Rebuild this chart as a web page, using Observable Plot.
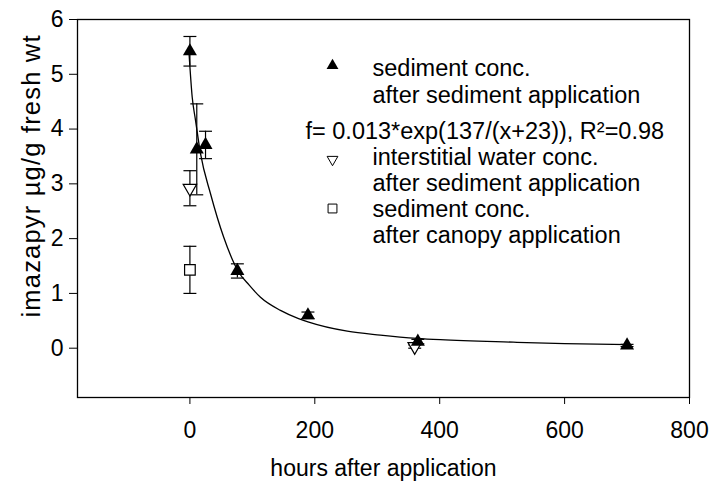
<!DOCTYPE html>
<html><head><meta charset="utf-8">
<script src="https://cdn.jsdelivr.net/npm/d3@7"></script>
<script src="https://cdn.jsdelivr.net/npm/@observablehq/plot@0.6"></script>
<style>body{margin:0;background:#fff}</style>
</head><body><div id="chart"></div>
<script>
const xTicks = [0, 200, 400, 600, 800];
const yTicks = [0, 1, 2, 3, 4, 5, 6];
const sedHours = [0, 11, 25, 76, 189, 365, 700];
const sedConc  = [5.42, 3.63, 3.71, 1.41, 0.60, 0.12, 0.05];
const sedErr   = [0.27, 0.83, 0.25, 0.13, 0.06, 0.04, 0.02];
const iwHours = [0, 360];
const iwConc  = [2.92, 0.03];
const iwErr   = [0.32, 0.03];
const canHours = [0];
const canConc  = [1.43];
const canErr   = [0.43];
const fitHours = [-1.5, 3.7, 9, 17, 33, 54, 77, 95, 113, 145, 174, 189, 252, 305, 364, 401, 518, 600, 704];
const fitConc  = [5.4, 4.58, 4.16, 3.55, 2.82, 2.03, 1.41, 1.15, 0.93, 0.69, 0.54, 0.48, 0.31, 0.24, 0.18, 0.155, 0.11, 0.085, 0.065];
const legendLabels = [
  ["sediment conc.", "after sediment application"],
  ["interstitial water conc.", "after sediment application"],
  ["sediment conc.", "after canopy application"]
];
const fitLabel = "f= 0.013*exp(137/(x+23)), R²=0.98";
const xLabel = "hours after application";
const yLabel = "imazapyr µg/g fresh wt";

const rows = (hs, cs, es, series) => hs.map((h, i) => ({h, c: cs[i], lo: cs[i] - es[i], hi: cs[i] + es[i], series}));
const sed = rows(sedHours, sedConc, sedErr, "sed");
const iw = rows(iwHours, iwConc, iwErr, "iw");
const can = rows(canHours, canConc, canErr, "can");
const all = [...sed, ...iw, ...can];
const fit = fitHours.map((h, i) => ({h, c: fitConc[i]}));

const capSymbol = {draw(ctx, size) { const w = Math.sqrt(size); ctx.moveTo(-w / 2, 0); ctx.lineTo(w / 2, 0); }};
const FONT = 23;
const LFONT = 23.5;
const ML = 77, MT = 19;

const legendMarks = [];
const symX = 332, txtX = 372;
const symY = [65, 159, 208];
const lineY = [[68, 95], [157, 183], [209, 235]];
legendLabels.forEach((lines, k) => {
  lines.forEach((t, j) => {
    legendMarks.push(Plot.text([t], {frameAnchor: "top-left", dx: txtX - ML, dy: lineY[k][j] - MT, textAnchor: "start", lineAnchor: "middle", fontSize: LFONT, fill: "black"}));
  });
});
legendMarks.push(Plot.dot([0], {frameAnchor: "top-left", dx: symX - ML, dy: symY[0] - MT, symbol: "triangle", r: 4.4, fill: "black", stroke: "none"}));
legendMarks.push(Plot.dot([0], {frameAnchor: "top-left", dx: symX - ML, dy: symY[1] - MT, symbol: "triangle", rotate: 180, r: 4, fill: "white", stroke: "black", strokeWidth: 1}));
legendMarks.push(Plot.dot([0], {frameAnchor: "top-left", dx: symX - ML, dy: symY[2] - MT, symbol: "square", r: 5, fill: "white", stroke: "black", strokeWidth: 1}));
legendMarks.push(Plot.text([fitLabel], {frameAnchor: "top-left", dx: 305 - ML, dy: 131 - MT, textAnchor: "start", lineAnchor: "middle", fontSize: LFONT, fill: "black"}));

const chart = Plot.plot({
  width: 711,
  height: 483,
  marginLeft: ML,
  marginRight: 22,
  marginTop: MT,
  marginBottom: 86,
  style: {fontFamily: "'Liberation Sans', Arial, sans-serif", background: "white", color: "black"},
  x: {domain: [-180, 800]},
  y: {domain: [-0.9, 6]},
  marks: [
    Plot.frame({stroke: "black", strokeWidth: 1.3}),
    Plot.axisX({ticks: xTicks, tickSize: 7, tickPadding: 17, fontSize: FONT, label: null, tickFormat: d => String(d)}),
    Plot.axisY({ticks: yTicks, tickSize: 8, tickPadding: 6, fontSize: FONT, label: null, tickFormat: d => String(d)}),
    Plot.text([xLabel], {frameAnchor: "bottom", dy: 71, lineAnchor: "middle", fontSize: FONT, fill: "black"}),
    Plot.text([yLabel], {frameAnchor: "top-left", dx: 31 - ML, dy: 176 - MT, rotate: -90, textAnchor: "middle", lineAnchor: "middle", fontSize: 25.5, fill: "black"}),
    Plot.ruleX(all, {x: "h", y1: "lo", y2: "hi", stroke: "black", strokeWidth: 1.2}),
    Plot.dot(all, {x: "h", y: "lo", symbol: capSymbol, r: 7.3, stroke: "black", fill: "none", strokeWidth: 1.2}),
    Plot.dot(all, {x: "h", y: "hi", symbol: capSymbol, r: 7.3, stroke: "black", fill: "none", strokeWidth: 1.2}),
    Plot.line(fit, {x: "h", y: "c", curve: "monotone-x", stroke: "black", strokeWidth: 1.3}),
    Plot.dot(iw, {x: "h", y: "c", symbol: "triangle", rotate: 180, r: 5, fill: "white", stroke: "black", strokeWidth: 1.2}),
    Plot.dot(can, {x: "h", y: "c", symbol: "square", r: 6, fill: "white", stroke: "black", strokeWidth: 1.2}),
    Plot.dot(sed, {x: "h", y: "c", symbol: "triangle", r: 5.2, fill: "black", stroke: "none"}),
    ...legendMarks
  ]
});
d3.select(chart).selectAll("text").filter(function () { return this.textContent === yLabel; })
  .attr("textLength", 282).attr("lengthAdjust", "spacing");
document.getElementById("chart").appendChild(chart);
</script>
</body></html>
